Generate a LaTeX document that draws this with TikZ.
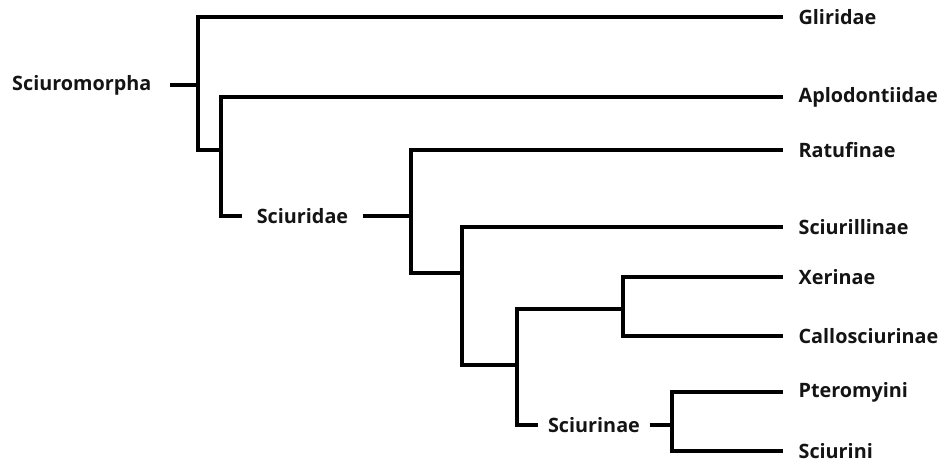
\documentclass[tikz,border=0pt]{standalone}
\usepackage{fontspec}
\setmainfont{Open Sans}
\begin{document}
\begin{tikzpicture}[x=1pt,y=-1pt,line width=3.2pt,line join=miter,
  lab/.style={font=\fontsize{19.8}{23}\selectfont\bfseries,inner ysep=0pt,text=black!92},
  leaf/.style={lab,anchor=west,inner xsep=14pt},
  inner/.style={lab,inner xsep=13.5pt}]
\useasboundingbox (0,0) rectangle (942,463);
% leaves
\node[leaf] (gli) at (783,17) {Gliridae};
\node[leaf] (apl) at (783,97) {Aplodontiidae};
\node[leaf] (rat) at (783,150) {Ratufinae};
\node[leaf] (scl) at (783,227) {Sciurillinae};
\node[leaf] (xer) at (783,277) {Xerinae};
\node[leaf] (cal) at (783,336) {Callosciurinae};
\node[leaf] (pte) at (783,392) {Pteromyini};
\node[leaf] (scr) at (783,451) {Sciurini};
% internal labels
\node[lab,anchor=east,inner xsep=17pt] (sm) at (170,85) {Sciuromorpha};
\node[inner] (sd) at (302.5,216) {Sciuridae};
\node[lab,inner xsep=8pt] (sn) at (594,425) {Sciurinae};
% junctions
\coordinate (j1) at (198,85);
\coordinate (j2) at (221,150);
\coordinate (j3) at (411,216);
\coordinate (j4) at (462,273);
\coordinate (j5) at (517,365);
\coordinate (j6) at (623,309);
\coordinate (j7) at (672,425);
% connectors
\draw (sm.east) -- (j1);
\draw (gli.west) -| (j1) |- (j2);
\draw (apl.west) -| (j2) |- (sd.west);
\draw (sd.east) -- (j3);
\draw (rat.west) -| (j3) |- (j4);
\draw (scl.west) -| (j4) |- (j5);
\draw (j6) -| (j5) |- (sn.west);
\draw (xer.west) -| (j6) |- (cal.west);
\draw (sn.east) -- (j7);
\draw (pte.west) -| (j7) |- (scr.west);
\end{tikzpicture}
\end{document}
